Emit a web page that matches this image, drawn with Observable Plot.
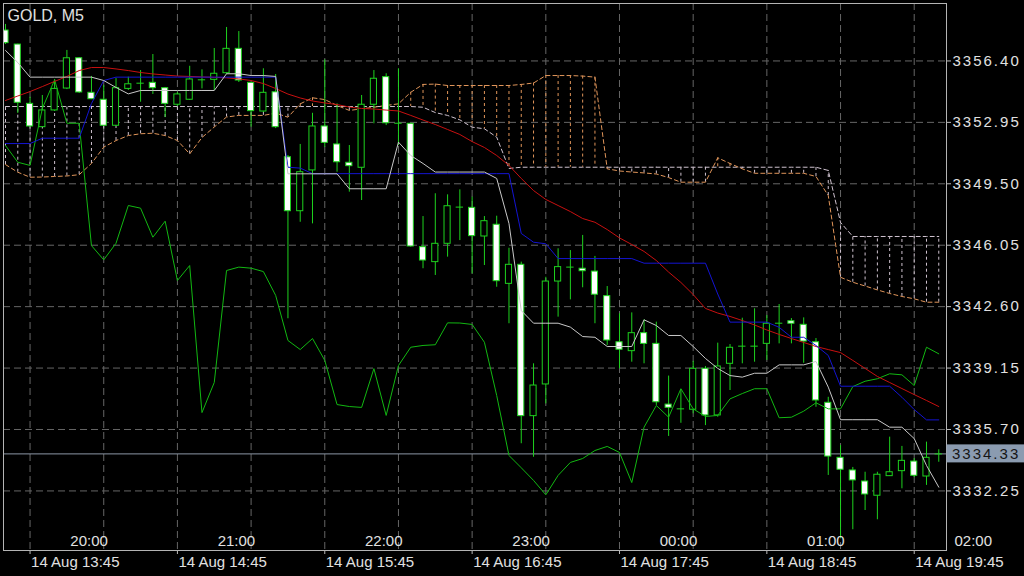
<!DOCTYPE html>
<html><head><meta charset="utf-8">
<script src="https://cdn.jsdelivr.net/npm/d3@7"></script>
<script src="https://cdn.jsdelivr.net/npm/@observablehq/plot@0.6"></script>
<style>html,body{margin:0;padding:0;background:#000;overflow:hidden}#chart svg{display:block}</style>
</head><body><div id="chart"></div>
<script>
const title = "GOLD, M5";
const open = [3358.11,3357.32,3353.99,3352.68,3353.62,3354.85,3356.55,3354.61,3354.22,3352.76,
 3354.83,3355.15,3355.17,3354.87,3353.94,3354.22,3355.34,3355.34,3355.71,3357.08,
 3355.17,3353.56,3354.64,3350.99,3347.96,3350.25,3352.72,3351.71,3350.68,3350.40,
 3353.94,3355.49,3352.90,3352.87,3345.94,3345.10,3346.13,3348.19,3348.15,3346.54,
 3347.20,3343.88,3344.95,3336.45,3338.23,3344.01,3344.82,3344.73,3344.57,3343.19,
 3340.60,3340.10,3341.11,3340.51,3337.10,3336.86,3336.81,3339.11,3336.49,3339.39,
 3340.38,3340.38,3340.51,3341.67,3341.78,3341.58,3340.60,3337.20,3334.11,3333.40,
 3332.78,3331.98,3333.08,3333.36,3333.90,3333.06,3334.32];
const high = [3358.45,3357.34,3354.36,3354.46,3355.36,3356.99,3356.59,3355.53,3355.02,3355.41,
 3355.49,3355.86,3356.76,3354.91,3354.63,3356.10,3355.90,3357.10,3358.28,3358.05,
 3355.19,3355.96,3355.64,3351.09,3351.71,3353.46,3356.46,3353.99,3351.65,3354.46,
 3355.86,3355.68,3355.96,3352.89,3347.66,3348.94,3348.88,3349.16,3348.75,3347.66,
 3347.68,3345.88,3345.10,3339.39,3344.25,3345.85,3345.75,3346.60,3345.42,3343.73,
 3342.20,3342.25,3341.86,3341.73,3338.70,3337.93,3339.53,3339.24,3340.55,3340.47,
 3341.95,3342.48,3342.10,3342.72,3341.93,3341.97,3340.81,3337.51,3334.80,3333.57,
 3333.30,3333.30,3335.27,3334.75,3334.07,3334.99,3334.56];
const low = [3357.32,3353.45,3352.66,3352.66,3353.56,3354.79,3354.57,3354.23,3352.72,3352.72,
 3354.74,3354.08,3354.52,3353.22,3353.84,3354.18,3354.83,3354.74,3355.64,3355.19,
 3352.68,3353.50,3352.60,3341.92,3347.34,3347.25,3351.55,3350.15,3349.03,3348.56,
 3352.87,3352.77,3351.65,3345.94,3344.73,3344.35,3345.38,3346.31,3344.44,3344.91,
 3343.69,3341.64,3334.90,3334.14,3337.14,3342.01,3342.98,3343.66,3341.64,3340.42,
 3339.11,3339.48,3339.39,3337.05,3335.31,3336.05,3336.58,3335.92,3336.39,3337.89,
 3339.39,3339.48,3339.58,3340.51,3340.51,3339.42,3336.95,3333.12,3329.56,3330.07,
 3331.15,3330.63,3333.06,3332.37,3333.00,3332.56,3333.86];
const close = [3357.40,3354.05,3352.72,3353.62,3354.83,3356.55,3354.63,3354.25,3352.76,3354.87,
 3355.09,3355.15,3354.87,3353.99,3354.52,3355.36,3355.34,3355.68,3357.08,3355.30,
 3353.58,3354.61,3352.68,3347.96,3350.15,3352.72,3351.80,3350.71,3350.49,3353.94,
 3355.40,3352.90,3352.90,3345.98,3345.19,3346.13,3348.24,3348.19,3346.56,3347.40,
 3344.03,3344.95,3336.45,3338.17,3344.01,3344.82,3344.82,3344.59,3343.27,3340.70,
 3340.18,3341.11,3340.51,3337.23,3336.92,3336.86,3339.11,3336.49,3339.24,3340.29,
 3340.38,3340.38,3341.64,3341.67,3341.64,3340.64,3337.33,3334.18,3333.44,3332.84,
 3332.05,3333.16,3333.30,3333.94,3333.10,3334.11,3334.33];
// red moving average
const maLine = [3354.18,3354.43,3354.68,3354.96,3355.25,3355.53,3355.86,3356.03,3356.03,3355.95,
 3355.86,3355.75,3355.67,3355.61,3355.55,3355.53,3355.50,3355.48,3355.45,3355.39,
 3355.30,3355.13,3354.85,3354.54,3354.32,3354.15,3354.04,3353.95,3353.81,3353.73,
 3353.70,3353.64,3353.59,3353.34,3353.08,3352.83,3352.55,3352.27,3351.87,3351.54,
 3351.09,3350.53,3349.80,3349.12,3348.62,3348.28,3347.94,3347.55,3347.34,3346.93,
 3346.46,3346.09,3345.70,3345.19,3344.54,3343.96,3343.28,3342.50,3342.24,3342.05,
 3341.82,3341.57,3341.29,3341.04,3340.81,3340.59,3340.36,3340.19,3340.02,3339.58,
 3339.13,3338.68,3338.34,3338.00,3337.66,3337.33,3336.99];
// blue kijun-sen
const kijun = [3351.76,3351.76,3351.76,3352.06,3352.06,3352.06,3352.06,3354.01,3355.30,3355.49,
 3355.49,3355.49,3355.49,3355.49,3355.49,3355.49,3355.49,3355.49,3355.49,3355.49,
 3355.49,3355.49,3355.49,3350.43,3350.38,3350.07,3350.07,3350.07,3350.07,3350.07,
 3350.07,3350.07,3350.07,3350.07,3350.07,3350.07,3350.07,3350.07,3350.07,3350.07,
 3350.07,3350.07,3346.71,3346.22,3346.13,3345.30,3345.30,3345.30,3345.30,3345.30,
 3345.30,3345.30,3345.04,3345.04,3345.04,3345.04,3345.04,3345.04,3343.31,3341.73,
 3341.73,3341.73,3341.73,3341.44,3340.88,3340.88,3340.42,3339.86,3338.13,3338.13,
 3338.13,3338.13,3338.13,3337.51,3336.82,3336.24,3336.24];
// silver tenkan-sen
const tenkan = [3356.99,3356.31,3355.49,3355.49,3355.49,3355.49,3355.49,3355.49,3355.30,3354.91,
 3354.55,3354.74,3354.74,3354.74,3354.74,3354.74,3354.74,3354.74,3355.68,3355.68,
 3355.58,3355.58,3355.53,3350.06,3350.06,3350.06,3350.06,3350.06,3349.22,3349.22,
 3349.22,3349.22,3351.84,3351.09,3350.64,3350.16,3350.16,3350.16,3350.16,3350.16,
 3349.80,3347.27,3342.38,3341.67,3341.67,3341.67,3341.45,3340.92,3340.88,3340.36,
 3340.36,3340.36,3341.86,3341.54,3340.98,3340.98,3340.36,3339.69,3339.13,3338.73,
 3338.64,3338.86,3338.86,3339.33,3339.33,3339.33,3339.52,3338.08,3336.25,3336.25,
 3336.25,3336.25,3335.83,3335.83,3335.19,3333.68,3332.46];
// green chikou span
const chikou = [3351.65,3350.71,3350.53,3353.73,3355.34,3352.90,3352.90,3346.03,3345.23,3346.16,
 3348.28,3348.13,3346.50,3347.40,3344.07,3344.91,3336.65,3338.34,3344.63,3344.82,
 3344.76,3344.57,3343.23,3340.70,3340.19,3340.81,3339.58,3337.10,3336.99,3336.94,
 3339.12,3336.49,3339.29,3340.32,3340.42,3340.46,3341.69,3341.68,3341.60,3340.60,
 3337.61,3334.24,3333.55,3332.84,3332.03,3333.12,3333.85,3334.07,3334.52,3334.75,
 3334.41,3332.72,3335.83,3337.05,3336.39,3337.99,3336.86,3336.43,3336.49,3337.42,
 3337.72,3337.99,3337.99,3336.36,3336.39,3336.73,3337.20,3336.86,3336.86,3338.11,
 3338.41,3338.55,3338.83,3338.77,3338.17,3340.32,3339.95];
// senkou span A (sandy brown) and B (thistle)
const spanA = [3350.58,3350.15,3349.87,3349.88,3349.91,3349.94,3350.01,3350.64,3351.56,3351.93,
 3352.21,3352.31,3352.34,3352.21,3351.93,3351.18,3352.10,3352.69,3353.25,3353.34,
 3353.34,3353.34,3353.47,3353.24,3353.99,3354.33,3354.23,3353.90,3353.62,3353.71,
 3353.80,3353.90,3353.99,3354.64,3355.08,3355.10,3355.02,3355.02,3355.02,3355.02,
 3355.02,3355.02,3355.08,3355.16,3355.58,3355.58,3355.58,3355.55,3355.49,3350.34,
 3350.22,3350.16,3350.11,3350.05,3349.85,3349.59,3349.59,3349.59,3350.96,3350.64,
 3350.34,3350.09,3350.09,3350.09,3350.09,3350.09,3349.91,3348.84,3344.25,3343.97,
 3343.76,3343.54,3343.34,3343.17,3343.04,3342.85,3342.85];
const spanB = [3353.84,3353.84,3353.84,3353.84,3353.84,3353.84,3353.84,3353.84,3353.84,3353.84,
 3353.84,3353.84,3353.84,3353.84,3353.84,3353.84,3353.84,3353.84,3353.84,3353.84,
 3353.84,3353.84,3353.84,3353.84,3353.84,3353.84,3353.84,3353.84,3353.84,3353.84,
 3353.84,3353.84,3353.84,3353.84,3353.80,3353.50,3353.34,3353.09,3352.68,3352.59,
 3352.12,3350.36,3350.43,3350.43,3350.43,3350.43,3350.43,3350.43,3350.43,3350.43,
 3350.43,3350.43,3350.43,3350.43,3350.43,3350.43,3350.43,3350.43,3350.43,3350.43,
 3350.43,3350.43,3350.43,3350.43,3350.43,3350.43,3350.43,3350.25,3347.33,3346.54,
 3346.54,3346.54,3346.54,3346.54,3346.54,3346.54,3346.54];
const priceTicks = [3356.40, 3352.95, 3349.50, 3346.05, 3342.60, 3339.15, 3335.70, 3332.25];
const gridBars = [2, 8, 14, 20, 26, 32, 38, 44, 50, 56, 62, 68, 74];
const timeBars = [2, 14, 26, 38, 50, 62, 74];
const hourLabels = ["20:00", "21:00", "22:00", "23:00", "00:00", "01:00", "02:00"];
const dateLabels = ["14 Aug 13:45", "14 Aug 14:45", "14 Aug 15:45", "14 Aug 16:45", "14 Aug 17:45", "14 Aug 18:45", "14 Aug 19:45"];
const lastPrice = 3334.33;

const idx = d3.range(open.length);
const bars = idx.map(i => ({i, o: open[i], h: high[i], l: low[i], c: close[i]}));
const isDoji = d => Math.abs(d.o - d.c) < 0.03;
const GREEN = "#1ed21e";
const SANDY = "#e0955a";
const THISTLE = "#cfc2cf";
const GRID = "#666";
const TXT = "#e0e0e0";

const chart = Plot.plot({
  width: 1024, height: 576,
  marginLeft: 3, marginRight: 78, marginTop: 3, marginBottom: 26,
  style: {background: "#000", color: TXT, fontFamily: "'Liberation Sans', Arial, sans-serif", fontSize: "15px", overflow: "visible"},
  x: {domain: [-0.163, 76.629], axis: null, label: null},
  y: {domain: [3328.904, 3359.626], axis: null, label: null},
  marks: [
    Plot.ruleX(gridBars, {x: d => d, stroke: GRID, strokeDasharray: "7,4"}),
    Plot.ruleY(priceTicks, {y: d => d, stroke: GRID, strokeDasharray: "7,4"}),
    Plot.ruleX(idx, {filter: i => spanA[i] < spanB[i], x: i => i, y1: i => spanA[i], y2: i => spanB[i], stroke: THISTLE, strokeDasharray: "3,3", clip: true}),
    Plot.ruleX(idx, {filter: i => spanA[i] >= spanB[i], x: i => i, y1: i => spanA[i], y2: i => spanB[i], stroke: SANDY, strokeDasharray: "3,3", clip: true}),
    Plot.line(idx, {x: i => i, y: i => spanB[i], stroke: THISTLE, strokeWidth: 1, strokeDasharray: "4,3", clip: true}),
    Plot.line(idx, {x: i => i, y: i => spanA[i], stroke: SANDY, strokeWidth: 1, strokeDasharray: "4,3", clip: true}),
    Plot.ruleY([lastPrice], {y: d => d, stroke: "#8d98a6", strokeWidth: 1}),
    Plot.ruleX(bars, {x: "i", y1: "l", y2: "h", stroke: GREEN, clip: true}),
    Plot.rect(bars.filter(d => !isDoji(d) && d.c >= d.o), {x1: d => d.i - 0.25, x2: d => d.i + 0.25, y1: "o", y2: "c", fill: "#000", stroke: GREEN, clip: true}),
    Plot.rect(bars.filter(d => !isDoji(d) && d.c < d.o), {x1: d => d.i - 0.25, x2: d => d.i + 0.25, y1: "o", y2: "c", fill: "#fff", stroke: GREEN, clip: true}),
    Plot.ruleY(bars.filter(isDoji), {y: "c", x1: d => d.i - 0.3, x2: d => d.i + 0.3, stroke: GREEN, clip: true}),
    Plot.line(idx, {x: i => i, y: i => chikou[i], stroke: "#12b812", strokeWidth: 1, clip: true}),
    Plot.line(idx, {x: i => i, y: i => maLine[i], stroke: "#c81010", strokeWidth: 1, clip: true}),
    Plot.line(idx, {x: i => i, y: i => kijun[i], stroke: "#1414d2", strokeWidth: 1, clip: true}),
    Plot.line(idx, {x: i => i, y: i => tenkan[i], stroke: "#c8c8c8", strokeWidth: 1, clip: true}),
    Plot.text([title], {text: d => d, frameAnchor: "top-left", dx: 4, dy: 6, lineAnchor: "top", fontSize: 16, fill: TXT, ariaLabel: "title"}),
    Plot.text(timeBars, {x: d => d, text: (d, i) => hourLabels[i], frameAnchor: "bottom", dx: 59, dy: -5, fontSize: 15, fill: TXT, ariaLabel: "hour-label"}),
    Plot.text(timeBars, {x: d => d, text: (d, i) => dateLabels[i], frameAnchor: "bottom", textAnchor: "start", dx: 1, dy: 16, fontSize: 15, fill: TXT, ariaLabel: "date-label"}),
    Plot.axisX(timeBars, {anchor: "bottom", tickSize: 4, tickFormat: () => "", stroke: "#bbb", label: null}),
    Plot.axisY(priceTicks, {anchor: "right", tickSize: 4, tickPadding: 2, tickFormat: d => d.toFixed(2), stroke: "#bbb", fill: TXT, fontSize: 15, label: null}),
    Plot.frame({stroke: "#b4b4b4"})
  ]
});

const svg = d3.select(chart);
svg.selectAll('g[aria-label="y-axis tick label"] text').attr("letter-spacing", 2);
svg.selectAll('g[aria-label="hour-label"] text, g[aria-label="date-label"] text').attr("letter-spacing", 1);
svg.selectAll('g[aria-label="title"] text').attr("letter-spacing", 0.5);
const yPx = chart.scale("y").apply(lastPrice);
const xRight = 1024 - 78;
const box = svg.append("g").attr("aria-label", "last-price");
box.append("rect").attr("x", xRight + 0.5).attr("y", yPx - 9).attr("width", 78).attr("height", 18).attr("fill", "#8b9bb0");
box.append("text").attr("x", xRight + 6).attr("y", yPx).attr("dy", "0.35em").attr("fill", "#151515")
  .attr("text-anchor", "start").attr("font-size", 15).attr("letter-spacing", 2).text(lastPrice.toFixed(2));
document.getElementById("chart").appendChild(chart);
</script>
</body></html>
